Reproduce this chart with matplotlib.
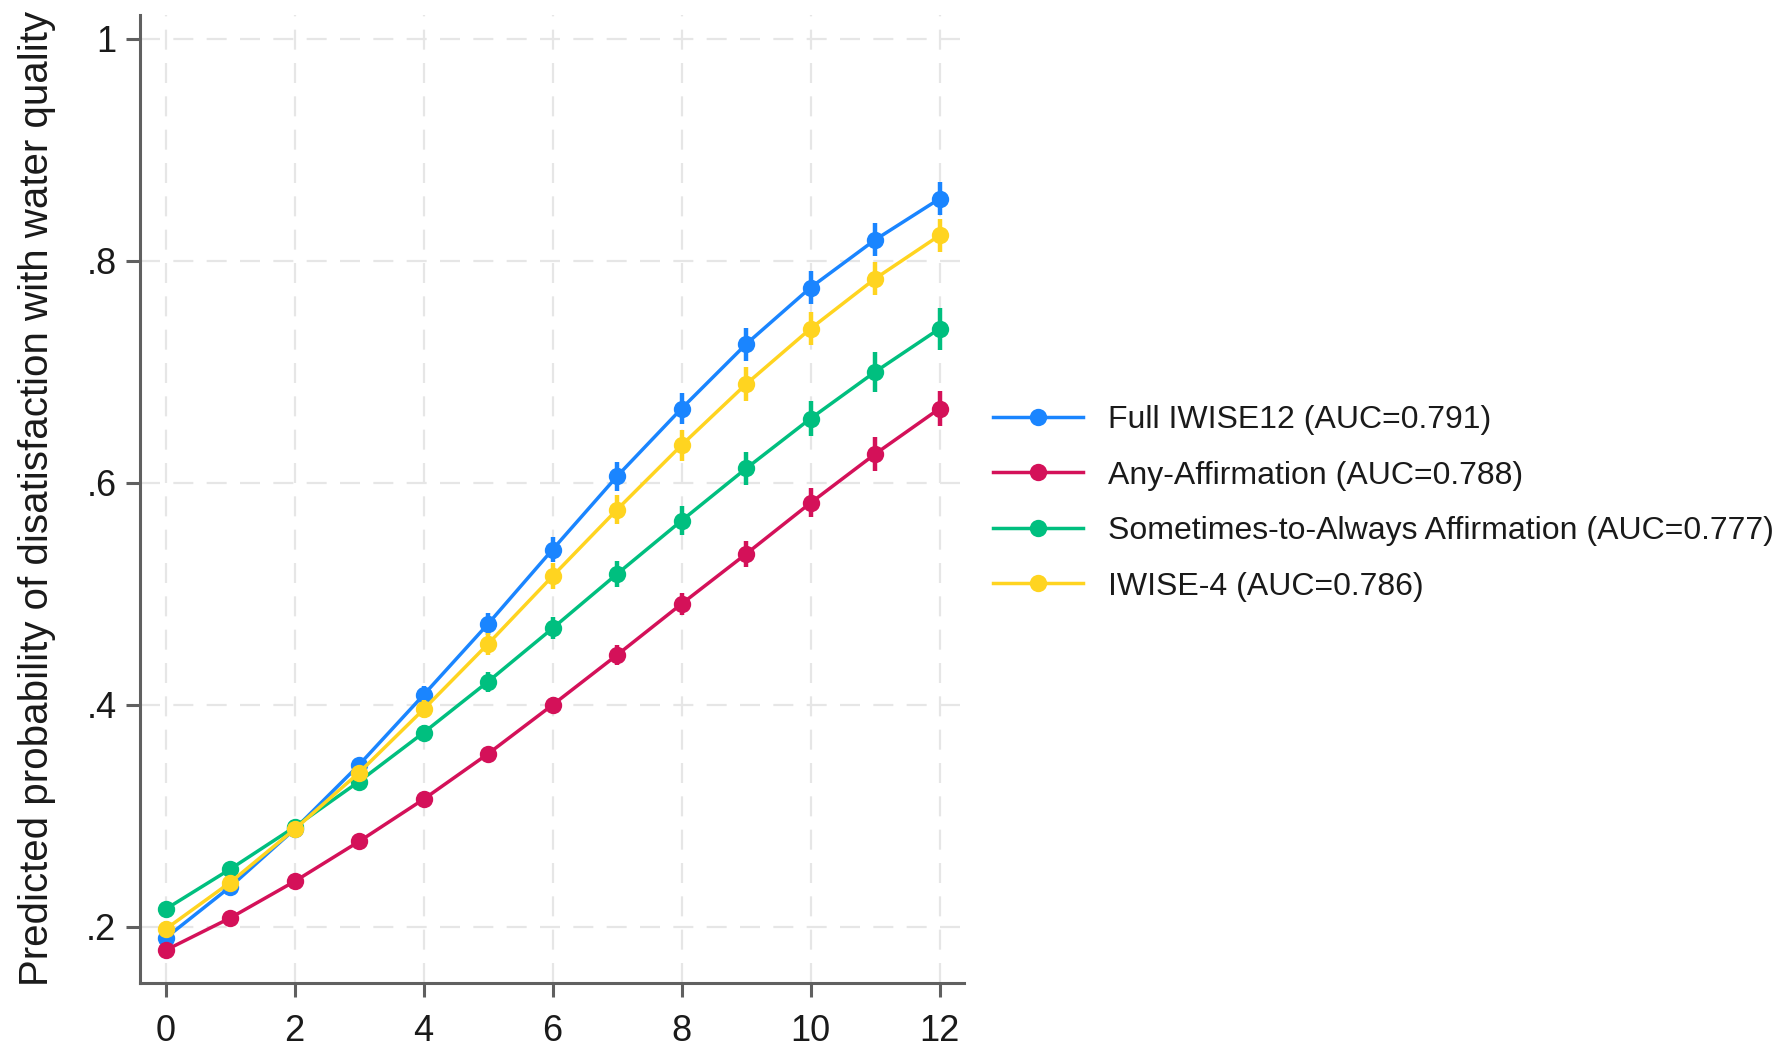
import matplotlib
matplotlib.use("Agg")
import matplotlib.pyplot as plt
from matplotlib.lines import Line2D

plt.rcParams['font.family'] = ['Liberation Sans', 'DejaVu Sans']

x = [0, 1, 2, 3, 4, 5, 6, 7, 8, 9, 10, 11, 12]

full_iwise = [0.190, 0.236, 0.288, 0.346, 0.409, 0.473, 0.540, 0.606, 0.667, 0.725, 0.776, 0.819, 0.856]
any_aff = [0.179, 0.208, 0.241, 0.277, 0.315, 0.356, 0.400, 0.445, 0.491, 0.536, 0.582, 0.626, 0.667]
some_aff = [0.216, 0.252, 0.290, 0.331, 0.375, 0.421, 0.469, 0.518, 0.566, 0.613, 0.658, 0.700, 0.739]
iwise4 = [0.198, 0.240, 0.288, 0.339, 0.396, 0.455, 0.516, 0.576, 0.634, 0.689, 0.739, 0.784, 0.823]

full_ci = [0.007, 0.006, 0.005, 0.006, 0.008, 0.010, 0.011, 0.013, 0.014, 0.015, 0.015, 0.015, 0.015]
any_ci = [0.006, 0.005, 0.004, 0.004, 0.005, 0.006, 0.007, 0.009, 0.010, 0.012, 0.013, 0.015, 0.016]
some_ci = [0.006, 0.005, 0.005, 0.006, 0.007, 0.009, 0.010, 0.012, 0.013, 0.015, 0.016, 0.018, 0.019]
iwise4_ci = [0.007, 0.006, 0.005, 0.006, 0.008, 0.010, 0.012, 0.013, 0.014, 0.015, 0.015, 0.015, 0.015]

labels = ['Full IWISE12 (AUC=0.791)', 'Any-Affirmation (AUC=0.788)',
          'Sometimes-to-Always Affirmation (AUC=0.777)', 'IWISE-4 (AUC=0.786)']
colors = ['#1a85ff', '#d41159', '#00bf7f', '#ffd420']
series = [full_iwise, any_aff, some_aff, iwise4]
cis = [full_ci, any_ci, some_ci, iwise4_ci]

xticks = [0, 2, 4, 6, 8, 10, 12]
yticks = [0.2, 0.4, 0.6, 0.8, 1.0]
ytick_labels = ['.2', '.4', '.6', '.8', '1']

fig = plt.figure(figsize=(17.79, 10.54), dpi=100)
ax = fig.add_axes([0.0787, 0.0674, 0.4632, 0.9184])

handles = []
for i in range(4):
	ax.errorbar(x, series[i], yerr=cis[i], fmt='none', ecolor=colors[i],
	            elinewidth=3.2, capsize=0, zorder=3 + i)
	ax.plot(x, series[i], color=colors[i], lw=2.5, marker='o',
	        markersize=12.5, markeredgewidth=0, zorder=3 + i)
	handles.append(Line2D([], [], color=colors[i], lw=2.5, marker='o',
	                      markersize=12.5, markeredgewidth=0))

ax.set_xlim(-0.397, 12.38)
ax.set_ylim(0.1495, 1.0216)
ax.set_xticks(xticks)
ax.set_yticks(yticks)
ax.set_yticklabels(ytick_labels)

for s in ['top', 'right']:
	ax.spines[s].set_visible(False)
for s in ['left', 'bottom']:
	ax.spines[s].set_color('#606060')
	ax.spines[s].set_linewidth(2.2)

ax.tick_params(axis='both', length=10, width=2.2, color='#606060',
               labelsize=26, labelcolor='#1a1a1a')
ax.tick_params(axis='x', pad=12)
ax.tick_params(axis='y', pad=7)

ax.grid(True, color='#e6e6e6', lw=1.6, linestyle=(0, (9, 6)), zorder=0)
ax.set_axisbelow(True)

ax.set_ylabel('Predicted probability of disatisfaction with water quality',
              fontsize=29, color='#1a1a1a', labelpad=22)

fig.legend(handles, labels, loc='center left', bbox_to_anchor=(0.558, 0.5225),
           frameon=False, fontsize=23, handlelength=2.82, handletextpad=0.78,
           labelspacing=0.8, borderpad=0, borderaxespad=0, labelcolor='#1a1a1a')

fig.savefig('out.png', dpi=100)
